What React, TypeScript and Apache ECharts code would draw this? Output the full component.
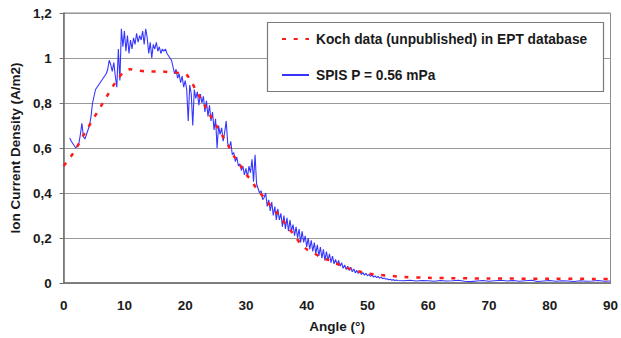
import React, { useEffect, useRef } from "react";
import * as echarts from "echarts";

const xTicks = [0, 10, 20, 30, 40, 50, 60, 70, 80, 90];
const yTicks = [0, 0.2, 0.4, 0.6, 0.8, 1.0, 1.2];

const kochName = "Koch data (unpublished) in EPT database";
const spisName = "SPIS P = 0.56 mPa";

const kochAngles = [0, 1, 2, 3, 4, 5, 6, 7, 8, 9, 10, 11, 12, 14, 16, 18, 20, 21, 22, 23, 24, 25, 26, 27, 28, 29, 30, 31, 32, 33, 34, 35, 36, 37, 38, 39, 40, 41, 42, 43, 44, 45, 46, 47, 48, 49, 50, 52, 54, 56, 60, 70, 80, 90];
const kochValues = [0.52, 0.555, 0.595, 0.645, 0.69, 0.735, 0.78, 0.825, 0.87, 0.91, 0.94, 0.95, 0.945, 0.94, 0.94, 0.935, 0.93, 0.895, 0.845, 0.8, 0.75, 0.705, 0.66, 0.615, 0.565, 0.525, 0.485, 0.45, 0.41, 0.38, 0.345, 0.315, 0.28, 0.245, 0.21, 0.175, 0.15, 0.135, 0.12, 0.108, 0.097, 0.085, 0.074, 0.064, 0.056, 0.049, 0.043, 0.036, 0.031, 0.027, 0.023, 0.02, 0.019, 0.018];

// SPIS: dense part from 1° to 55° every 0.25°
const spisStart = 1;
const spisStep = 0.25;
const spisDense = [
  0.645, 0.63, 0.62, 0.61, 0.6, 0.61, 0.62, 0.66, 0.71, 0.65, 0.64, 0.66, 0.68, 0.7, 0.74, 0.8,
  0.83, 0.86, 0.87, 0.88, 0.89, 0.9, 0.91, 0.92, 0.93, 0.95, 0.99, 0.97, 0.94, 0.98, 0.92, 0.87,
  1.04, 0.9, 1.13, 1.05, 1.12, 1.03, 1.1, 1.02, 1.08, 1.04, 1.09, 1.06, 1.11, 1.07, 1.1, 1.08,
  1.12, 1.06, 1.13, 1.09, 1.02, 1.07, 1.0, 1.06, 1.04, 1.07, 1.03, 1.05, 1.02, 1.04, 1.03, 1.04,
  1.02, 1.01, 1.0, 0.99, 0.96, 0.93, 0.95, 0.91, 0.93, 0.89, 0.92, 0.87, 0.9, 0.86, 0.72, 0.88,
  0.84, 0.7, 0.86, 0.82, 0.85, 0.79, 0.84, 0.8, 0.83, 0.76, 0.81, 0.74, 0.79, 0.72, 0.76, 0.68,
  0.73, 0.6, 0.7, 0.66, 0.69, 0.63, 0.67, 0.72, 0.62, 0.6, 0.63, 0.57, 0.58, 0.54, 0.56, 0.52,
  0.53, 0.5, 0.52, 0.48, 0.51, 0.47, 0.52, 0.49, 0.55, 0.45, 0.57, 0.44, 0.42, 0.4, 0.41, 0.37,
  0.38, 0.4, 0.34, 0.37, 0.32, 0.36, 0.3, 0.34, 0.28, 0.33, 0.28, 0.31, 0.25, 0.3, 0.24, 0.29,
  0.23, 0.28, 0.23, 0.26, 0.21, 0.25, 0.2, 0.24, 0.18, 0.23, 0.18, 0.21, 0.16, 0.2, 0.15, 0.19,
  0.14, 0.18, 0.13, 0.17, 0.12, 0.16, 0.11, 0.15, 0.1, 0.14, 0.1, 0.13, 0.09, 0.12, 0.085, 0.105,
  0.08, 0.1, 0.075, 0.09, 0.065, 0.08, 0.06, 0.075, 0.055, 0.07, 0.05, 0.062, 0.045, 0.056, 0.042, 0.052,
  0.038, 0.046, 0.035, 0.043, 0.032, 0.038, 0.029, 0.036, 0.026, 0.032, 0.024, 0.029, 0.022, 0.026, 0.019, 0.022,
  0.017, 0.019, 0.014, 0.017, 0.012, 0.015, 0.011, 0.013, 0.011,
];
const spisTailAngles = [56, 57, 58, 59, 60, 61, 62, 63, 64, 65, 66, 67, 68, 69, 70, 71, 72, 73, 74, 75, 76, 77, 78, 79, 80, 81, 82, 83, 84, 85, 86, 87, 88, 89, 90];
const spisTailValues = [0.01, 0.012, 0.009, 0.011, 0.01, 0.008, 0.011, 0.009, 0.01, 0.012, 0.008, 0.006, 0.009, 0.011, 0.008, 0.01, 0.012, 0.009, 0.011, 0.008, 0.01, 0.012, 0.007, 0.009, 0.011, 0.008, 0.01, 0.009, 0.007, 0.01, 0.008, 0.009, 0.011, 0.008, 0.009];

const FONT = "Liberation Sans, Arial, sans-serif";
const FS = 13.5;

export default function App() {
  const ref = useRef<HTMLDivElement>(null);
  useEffect(() => {
    if (!ref.current) return;
    const chart = echarts.init(ref.current, undefined, { renderer: "svg" });
    const kochData = kochAngles.map((a, i) => [a, kochValues[i]]);
    const spisData = spisDense
      .map((v, i) => [spisStart + i * spisStep, v])
      .concat(spisTailAngles.map((a, i) => [a, spisTailValues[i]]));
    chart.setOption({
      animation: false,
      backgroundColor: "#ffffff",
      grid: {
        left: 58,
        right: 8,
        top: 13,
        bottom: 55,
        show: true,
        borderColor: "#8c8c8c",
        borderWidth: 1,
        containLabel: false,
      },
      graphic: [
        {
          type: "rect",
          z: 3,
          shape: { x: 267.5, y: 22.5, width: 336, height: 69 },
          style: { fill: "#ffffff", stroke: "#7a7a7a", lineWidth: 1.2 },
        },
      ],
      legend: {
        orient: "vertical",
        left: 281,
        top: 32,
        padding: 0,
        itemGap: 22,
        itemWidth: 27,
        itemHeight: 14,
        z: 5,
        itemStyle: { opacity: 0 },
        data: [kochName, spisName],
        textStyle: { fontFamily: FONT, fontWeight: "bold", fontSize: 13.75, color: "#1a1a1a", padding: [0, 0, 0, 2] },
      },
      xAxis: {
        type: "value",
        min: xTicks[0],
        max: xTicks[xTicks.length - 1],
        interval: 10,
        name: "Angle (°)",
        nameLocation: "middle",
        nameGap: 36,
        nameTextStyle: { fontFamily: FONT, fontWeight: "bold", fontSize: FS, color: "#1a1a1a" },
        axisLine: { show: true, lineStyle: { color: "#6e6e6e", width: 1.5 } },
        axisTick: { show: false },
        splitLine: { show: false },
        axisLabel: { margin: 15, fontFamily: FONT, fontWeight: "bold", fontSize: FS, color: "#1a1a1a", showMaxLabel: true },
      },
      yAxis: {
        type: "value",
        min: yTicks[0],
        max: yTicks[yTicks.length - 1],
        interval: 0.2,
        name: "Ion Current Density (A/m2)",
        nameLocation: "middle",
        nameGap: 38,
        nameRotate: 90,
        nameTextStyle: { fontFamily: FONT, fontWeight: "bold", fontSize: FS, color: "#1a1a1a" },
        axisLine: { show: true, lineStyle: { color: "#6e6e6e", width: 1.5 } },
        axisTick: { show: true, length: 4, lineStyle: { color: "#6e6e6e" } },
        splitLine: { show: true, lineStyle: { color: "#999999", width: 1 } },
        axisLabel: {
          margin: 12,
          fontFamily: FONT,
          fontWeight: "bold",
          fontSize: FS,
          color: "#1a1a1a",
          formatter: (v: number) => String(+v.toFixed(1)).replace(".", ","),
        },
      },
      series: [
        {
          name: kochName,
          type: "line",
          data: kochData,
          symbol: "none",
          smooth: 0.3,
          z: 4,
          lineStyle: { color: "#ff1a1a", width: 2.5, type: [4, 7.7] },
          itemStyle: { color: "#ff1a1a" },
        },
        {
          name: spisName,
          type: "line",
          data: spisData,
          symbol: "none",
          z: 3,
          lineStyle: { color: "#3535ff", width: 1.1 },
          itemStyle: { color: "#3535ff" },
        },
      ],
    });
    return () => chart.dispose();
  }, []);
  return <div ref={ref} style={{ width: 621, height: 338, position: "fixed", left: 0, top: 0 }} />;
}
